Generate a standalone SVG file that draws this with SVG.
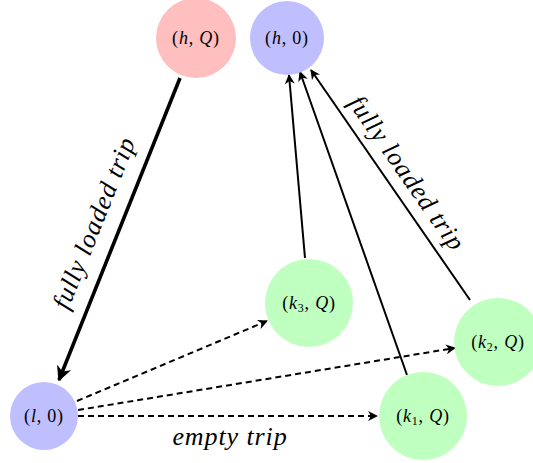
<svg xmlns="http://www.w3.org/2000/svg" width="533" height="463" viewBox="0 0 533 463">
<style>
.red{fill:#ffbfbf}.blue{fill:#bfbfff}.green{fill:#bfffbf}
text{font-family:"Liberation Serif","DejaVu Serif",serif}
.lbl{font-size:18px;text-anchor:middle;fill:#000;letter-spacing:0.8px}
.it{font-style:italic}
.sub{font-size:12px}
.edge{stroke:#000;fill:none;stroke-width:2}
.thick{stroke-width:3.6}
.dash{stroke-dasharray:6 4}
.elbl{font-style:italic;font-size:26px;fill:#000;text-anchor:middle;letter-spacing:0.9px}
</style>
<defs>
<marker id="ah" viewBox="0 0 10 10" refX="9" refY="5" markerWidth="5" markerHeight="5" orient="auto" markerUnits="strokeWidth">
<path d="M0,0 L10,5 L0,10 L3,5 Z" fill="#000"/>
</marker>
<marker id="ahT" viewBox="0 0 10 10" refX="9" refY="5" markerWidth="4.2" markerHeight="4.2" orient="auto" markerUnits="strokeWidth">
<path d="M0,0 L10,5 L0,10 L3,5 Z" fill="#000"/>
</marker>
</defs>
<g id="connectors">
<line class="edge thick" x1="180" y1="78" x2="59" y2="380" marker-end="url(#ahT)"/>
<line class="edge" x1="305" y1="258" x2="289" y2="75" marker-end="url(#ah)"/>
<line class="edge" x1="407" y1="375" x2="300" y2="72" marker-end="url(#ah)"/>
<line class="edge" x1="470" y1="300" x2="311" y2="70" marker-end="url(#ah)"/>
<line class="edge dash" x1="77" y1="401" x2="267" y2="321" marker-end="url(#ah)"/>
<line class="edge dash" x1="78" y1="410" x2="455" y2="348" marker-end="url(#ah)"/>
<line class="edge dash" x1="78" y1="416" x2="377" y2="416" marker-end="url(#ah)"/>
<text class="elbl" transform="translate(102,226) rotate(-68.2)">fully loaded trip</text>
<text class="elbl" transform="translate(400,178) rotate(55)">fully loaded trip</text>
<text class="elbl" x="230" y="445">empty trip</text>
</g>
<g id="hQ"><circle class="red" cx="196" cy="38" r="40"/><text class="lbl" x="196" y="44">(<tspan class="it">h</tspan>, <tspan class="it">Q</tspan>)</text></g>
<g id="h0"><circle class="blue" cx="287" cy="38" r="37"/><text class="lbl" x="287" y="44">(<tspan class="it">h</tspan>, 0)</text></g>
<g id="l0"><circle class="blue" cx="44" cy="416" r="34"/><text class="lbl" x="44" y="422">(<tspan class="it">l</tspan>, 0)</text></g>
<g id="k3Q"><circle class="green" cx="309" cy="303" r="44"/><text class="lbl" x="309" y="309">(<tspan class="it">k</tspan><tspan class="sub" dy="3">3</tspan><tspan dy="-3">, </tspan><tspan class="it">Q</tspan>)</text></g>
<g id="k2Q"><circle class="green" cx="498" cy="342" r="44"/><text class="lbl" x="498" y="348">(<tspan class="it">k</tspan><tspan class="sub" dy="3">2</tspan><tspan dy="-3">, </tspan><tspan class="it">Q</tspan>)</text></g>
<g id="k1Q"><circle class="green" cx="423" cy="416" r="44"/><text class="lbl" x="423" y="422">(<tspan class="it">k</tspan><tspan class="sub" dy="3">1</tspan><tspan dy="-3">, </tspan><tspan class="it">Q</tspan>)</text></g>
</svg>
